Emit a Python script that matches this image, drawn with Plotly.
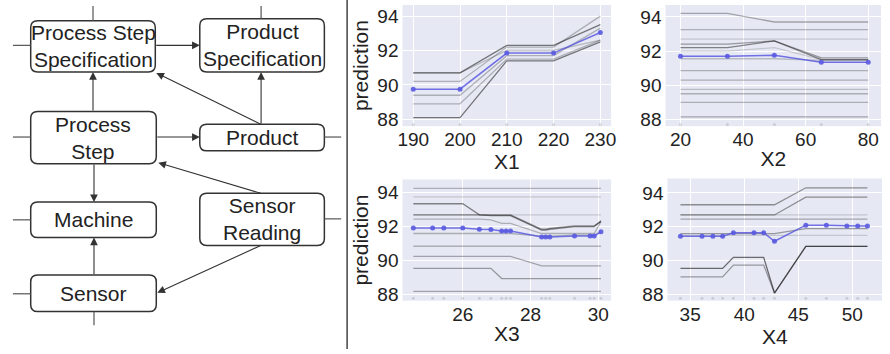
import plotly.graph_objects as go

W, H = 890, 354

# ---------------- data ----------------
x1_vals = [190, 200, 210, 220, 230]
x1_ice = [
    [90.7, 90.7, 92.3, 92.3, 93.5],
    [90.2, 90.2, 92.2, 92.2, 94.0],
    [89.4, 89.4, 91.7, 91.7, 93.3],
    [88.9, 88.9, 91.5, 91.5, 92.6],
    [88.1, 88.1, 91.4, 91.4, 92.5],
    [90.7, 90.7, 92.0, 92.0, 92.6],
]
x1_mean = [89.75, 89.75, 91.85, 91.85, 93.05]

x2_vals = [20, 35, 50, 65, 80]
x2_ice = [
    [94.2, 94.2, 93.7, 93.7, 93.7],
    [93.25, 93.25, 93.25, 93.25, 93.25],
    [92.7, 92.7, 92.7, 92.7, 92.7],
    [92.4, 92.4, 92.6, 91.6, 91.6],
    [92.2, 92.2, 92.6, 91.5, 91.5],
    [92.0, 92.0, 92.2, 91.5, 91.5],
    [91.55, 91.55, 91.55, 91.45, 91.45],
    [90.85, 90.85, 90.85, 90.85, 90.85],
    [90.3, 90.3, 90.3, 90.3, 90.3],
    [89.75, 89.75, 89.75, 89.75, 89.75],
    [89.5, 89.5, 89.5, 89.5, 89.5],
    [89.0, 89.0, 89.0, 89.0, 89.0],
    [88.15, 88.15, 88.15, 88.15, 88.15],
]
x2_mean = [91.7, 91.7, 91.75, 91.35, 91.35]

x3_vals = [24.54, 25.11, 25.44, 26.0, 26.49, 26.83, 27.15, 27.28, 27.41,
           28.33, 28.45, 28.57, 29.30, 29.76, 29.88, 30.08]
x3_ice = [
    [94.25] * 16,
    [93.75] * 16,
    [93.35, 93.35, 93.35, 93.35, 92.7, 92.65, 92.65, 92.65, 92.65,
     91.8, 91.8, 91.85, 92.0, 92.0, 92.0, 92.35],
    [92.7, 92.7, 92.7, 92.7, 92.7, 92.7, 92.7, 92.7, 92.7,
     91.85, 91.85, 91.9, 92.05, 92.05, 92.05, 92.3],
    [92.45, 92.45, 92.45, 92.45, 92.45, 92.4, 92.2, 92.2, 92.2,
     91.6, 91.6, 91.6, 91.6, 91.6, 91.6, 92.3],
    [92.7] * 16,
    [91.6, 91.6, 91.6, 91.6, 91.6, 91.6, 91.6, 91.6, 91.6,
     91.45, 91.45, 91.45, 91.5, 91.5, 91.5, 91.75],
    [90.85] * 16,
    [90.25, 90.25, 90.25, 90.25, 90.25, 90.25, 90.25, 90.25, 90.25,
     89.7, 89.7, 89.7, 89.7, 89.7, 89.7, 89.7],
    [89.55, 89.55, 89.55, 89.55, 89.55, 89.55, 88.95, 88.95, 88.95,
     88.95, 88.95, 88.95, 88.95, 88.95, 88.95, 88.95],
    [88.2] * 16,
]
x3_mean = [91.93, 91.93, 91.93, 91.93, 91.85, 91.83, 91.75, 91.75, 91.75,
           91.4, 91.4, 91.4, 91.45, 91.45, 91.45, 91.7]

x4_vals = [34.1, 36.1, 37.1, 38.0, 39.0, 40.9, 41.8, 42.8, 45.7, 47.6, 49.5, 50.5, 51.4]
x4_ice = [
    [93.3] * 8 + [94.3] * 5,
    [92.7] * 8 + [93.75] * 5,
    [92.7] * 13,
    [92.45] * 13,
    [91.6] * 8 + [91.9] * 5,
    [91.5] * 13,
    [89.55, 89.55, 89.55, 89.55, 90.2, 90.2, 90.2, 88.1, 90.85, 90.85, 90.85, 90.85, 90.85],
    [89.05, 89.05, 89.05, 89.05, 89.75, 89.75, 89.75, 88.1, 90.85, 90.85, 90.85, 90.85, 90.85],
]
x4_mean = [91.45, 91.45, 91.45, 91.45, 91.65, 91.65, 91.65, 91.15, 92.1, 92.1, 92.05, 92.05, 92.05]

y_ticks = [88, 90, 92, 94]
x1_ticks = [190, 200, 210, 220, 230]
x2_ticks = [20, 40, 60, 80]
x3_ticks = [26, 28, 30]
x4_ticks = [35, 40, 45, 50]
feature_names = ["X1", "X2", "X3", "X4"]
y_title = "prediction"

# styles (separate from data)
x1_shade = [0.5, 0.25, 0.25, 0.25, 0.5, 0.2]
x2_shade = [0.3, 0.25, 0.15, 0.35, 0.45, 0.15, 0.2, 0.25, 0.25, 0.2, 0.25, 0.25, 0.3]
x3_shade = [0.25, 0.15, 0.45, 0.4, 0.25, 0.15, 0.25, 0.25, 0.3, 0.35, 0.3]
x4_shade = [0.4, 0.4, 0.15, 0.3, 0.35, 0.15, 0.55, 0.35]

# flowchart content
nodes = [
    ("Process Step<br>Specification", 26, 21, 152, 73),
    ("Product<br>Specification", 197, 19, 323, 73),
    ("Process<br>Step", 26, 113, 153, 166),
    ("Product", 197, 126, 323, 153),
    ("Machine", 26, 205, 153, 241),
    ("Sensor<br>Reading", 197, 196, 323, 249),
    ("Sensor", 26, 279, 153, 316),
]
stubs = [(8, 46, 26, 46), (89, 6, 89, 21), (259, 6, 259, 19), (8, 139, 26, 139),
         (323, 139, 340, 139), (8, 223, 26, 223), (323, 222, 340, 222),
         (8, 298, 26, 298), (90, 316, 90, 330)]
arrows = [((152, 46), (197, 46)), ((89, 113), (89, 73)), ((259, 126), (259, 73)),
          ((259, 126), (153, 74)), ((153, 139), (197, 139)), ((259, 196), (155, 165)),
          ((90, 166), (90, 205)), ((90, 279), (90, 241)), ((259, 249), (154, 297))]


def px(x):
    return x / W


def py(y):
    return 1 - y / H


fig = go.Figure()

panels = [
    (x1_vals, x1_ice, x1_mean, x1_shade, "x", "y"),
    (x2_vals, x2_ice, x2_mean, x2_shade, "x2", "y2"),
    (x3_vals, x3_ice, x3_mean, x3_shade, "x3", "y3"),
    (x4_vals, x4_ice, x4_mean, x4_shade, "x4", "y4"),
]
rug_y = [87.7, 87.7, 87.8, 87.8]
for i, (xs, ice, mean, shade, xa, ya) in enumerate(panels):
    for line, a in zip(ice, shade):
        fig.add_trace(go.Scatter(x=xs, y=line, mode="lines", xaxis=xa, yaxis=ya,
                                 line=dict(color=f"rgba(0,0,0,{a})", width=1.3),
                                 showlegend=False, hoverinfo="skip"))
    fig.add_trace(go.Scatter(x=xs, y=mean, mode="lines+markers", xaxis=xa, yaxis=ya,
                             line=dict(color="rgba(90,90,225,0.85)", width=1.5),
                             marker=dict(color="rgba(90,90,225,0.9)", size=5),
                             showlegend=False))
    fig.add_trace(go.Scatter(x=xs, y=[rug_y[i]] * len(xs), mode="markers", xaxis=xa, yaxis=ya,
                             marker=dict(color="rgba(0,0,0,0.12)", size=3),
                             showlegend=False, hoverinfo="skip", cliponaxis=False))

FAM = "Liberation Sans, Arial, sans-serif"
tick_font = dict(family=FAM, size=19, color="#222")
title_font = dict(family=FAM, size=21, color="#222")
common_x = dict(showgrid=True, gridcolor="white", gridwidth=1, zeroline=False,
                ticks="", tickfont=tick_font, showline=False)
common_y = dict(showgrid=True, gridcolor="white", gridwidth=1, zeroline=False,
                ticks="", tickfont=tick_font, showline=False, tickvals=y_ticks,
                ticklabelstandoff=3)

layout = dict(
    width=W, height=H, margin=dict(l=0, r=0, t=0, b=0),
    paper_bgcolor="white", plot_bgcolor="#E6E9F3",
    showlegend=False,
    xaxis=dict(common_x, domain=[px(402), px(613)], range=[187.7, 232.3], tickvals=x1_ticks,
               anchor="y", title=dict(text=feature_names[0], font=title_font, standoff=2)),
    yaxis=dict(common_y, domain=[py(128), py(5)], range=[87.6, 94.65], anchor="x",
               title=dict(text=y_title, font=title_font, standoff=2)),
    xaxis2=dict(common_x, domain=[px(668), px(886)], range=[15.2, 84.1], tickvals=x2_ticks,
                anchor="y2", title=dict(text=feature_names[1], font=title_font, standoff=2)),
    yaxis2=dict(common_y, domain=[py(128), py(5)], range=[87.6, 94.7], anchor="x2"),
    xaxis3=dict(common_x, domain=[px(402), px(613)], range=[24.22, 30.38], tickvals=x3_ticks,
                anchor="y3", title=dict(text=feature_names[2], font=title_font, standoff=2)),
    yaxis3=dict(common_y, domain=[py(305), py(182)], range=[87.65, 94.78], anchor="x3",
                title=dict(text=y_title, font=title_font, standoff=2)),
    xaxis4=dict(common_x, domain=[px(670), px(887)], range=[32.9, 52.75], tickvals=x4_ticks,
                anchor="y4", title=dict(text=feature_names[3], font=title_font, standoff=2)),
    yaxis4=dict(common_y, domain=[py(305), py(181)], range=[87.65, 94.85], anchor="x4"),
)
fig.update_layout(**layout)

shapes = []
annotations = []


def rrect(x0, y0, x1, y1, r=7):
    pts = [
        ("M", [(x0 + r, y0)]),
        ("L", [(x1 - r, y0)]),
        ("Q", [(x1, y0), (x1, y0 + r)]),
        ("L", [(x1, y1 - r)]),
        ("Q", [(x1, y1), (x1 - r, y1)]),
        ("L", [(x0 + r, y1)]),
        ("Q", [(x0, y1), (x0, y1 - r)]),
        ("L", [(x0, y0 + r)]),
        ("Q", [(x0, y0), (x0 + r, y0)]),
    ]
    s = ""
    for cmd, ps in pts:
        s += cmd + " " + " ".join(f"{px(a):.5f},{py(b):.5f}" for a, b in ps) + " "
    return s + "Z"


for text, x0, y0, x1, y1 in nodes:
    shapes.append(dict(type="path", path=rrect(x0, y0, x1, y1), xref="paper", yref="paper",
                       line=dict(color="#333", width=1.5), fillcolor="white"))
    annotations.append(dict(text=text, x=px((x0 + x1) / 2), y=py((y0 + y1) / 2),
                            xref="paper", yref="paper", showarrow=False,
                            font=dict(family=FAM, size=21, color="#222"),
                            xanchor="center", yanchor="middle", align="center"))

for x0, y0, x1, y1 in stubs:
    shapes.append(dict(type="line", x0=px(x0), y0=py(y0), x1=px(x1), y1=py(y1),
                       xref="paper", yref="paper", line=dict(color="#555", width=1.2)))

for (tx, ty), (hx, hy) in arrows:
    annotations.append(dict(text="", x=px(hx), y=py(hy), xref="paper", yref="paper",
                            ax=tx - hx, ay=ty - hy, axref="pixel", ayref="pixel",
                            showarrow=True, arrowhead=2, arrowsize=1.4, arrowwidth=1.1,
                            arrowcolor="#333", standoff=0, startstandoff=0))

# divider
shapes.append(dict(type="line", x0=px(346), x1=px(346), y0=0, y1=1, xref="paper", yref="paper",
                   line=dict(color="#444", width=1.5)))

fig.update_layout(shapes=shapes, annotations=annotations)
fig.write_html("out.html", config={"displayModeBar": False},
               post_script="document.body.style.margin='0';")
